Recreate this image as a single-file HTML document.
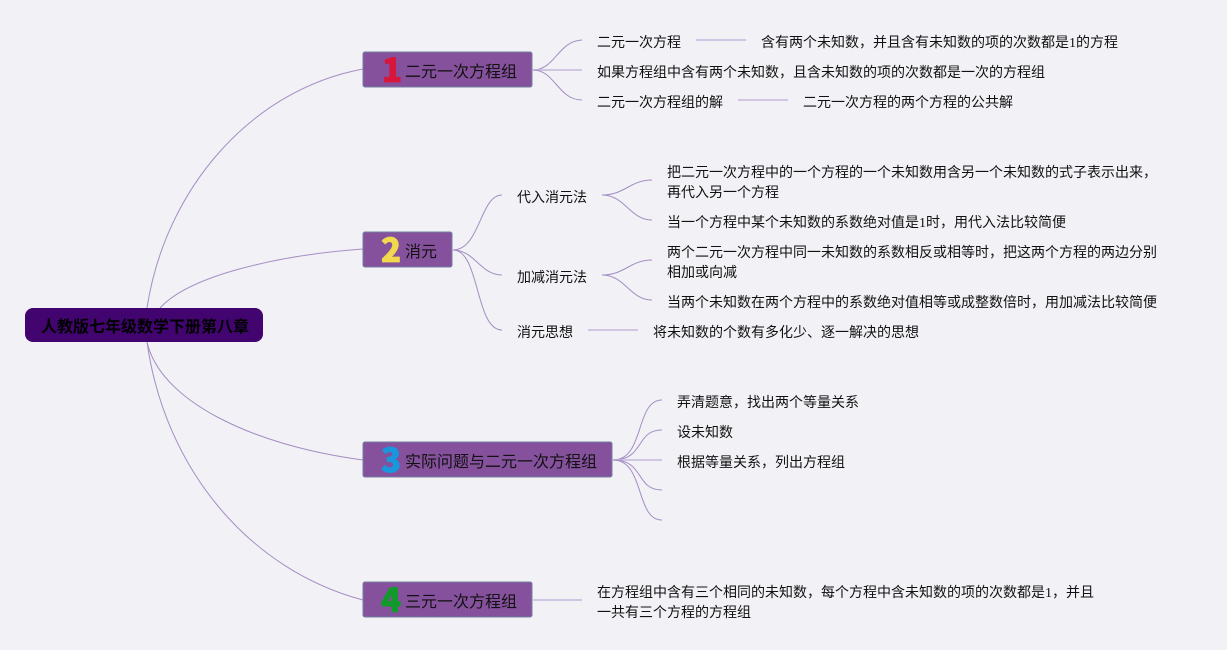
<!DOCTYPE html>
<html lang="zh">
<head>
<meta charset="utf-8">
<style>
html,body{margin:0;padding:0;background:#f2f1f5;}
svg{display:block;}
text{font-family:"Liberation Serif","Noto Sans CJK SC",sans-serif;fill:#111;}
.s{font-size:14px;}
.n{font-size:16px;}
.r{font-size:16px;font-weight:bold;fill:#000;font-family:"Liberation Sans","Noto Sans CJK SC",sans-serif;}
.c{fill:none;stroke:#a48ec4;stroke-width:1;}
.l{fill:none;stroke:#c5b8dc;stroke-width:1.4;}
.b{fill:#85519c;stroke:#6f7f9f;stroke-width:1;}
.d{font-family:"Noto Sans CJK SC",sans-serif;font-size:33px;font-weight:900;stroke-width:.8;stroke-linejoin:round;}
</style>
</head>
<body>
<svg width="1227" height="650" viewBox="0 0 1227 650" xmlns="http://www.w3.org/2000/svg">
<rect width="1227" height="650" fill="#f2f1f5"/>

<!-- root connectors -->
<path class="c" d="M147 308C165 190 250 90 363 69"/>
<path class="c" d="M160 308C190 275 280 255 363 249"/>
<path class="c" d="M147 342C160 400 250 445 363 460"/>
<path class="c" d="M147 342C165 470 250 570 363 600"/>

<!-- branch 1 -->
<path class="c" d="M533 70C555 70 558 41 582 40"/>
<path class="l" d="M533 70H582"/>
<path class="c" d="M533 70C555 70 558 100 582 100"/>
<path class="l" d="M696 40H746"/>
<path class="l" d="M738 100H788"/>

<!-- branch 2 -->
<path class="c" d="M453 250C480 250 480 195 502 195"/>
<path class="c" d="M453 250C475 250 480 275 502 275"/>
<path class="c" d="M453 250C480 250 475 330 502 330"/>
<path class="c" d="M602 195C625 195 630 180 652 180"/>
<path class="c" d="M602 195C625 195 630 220 652 220"/>
<path class="c" d="M602 275C625 275 630 260 652 260"/>
<path class="c" d="M602 275C625 275 630 300 652 300"/>
<path class="l" d="M588 330H638"/>

<!-- branch 3 -->
<path class="c" d="M613 460C645 460 635 400 662 400"/>
<path class="c" d="M613 460C645 460 635 430 662 430"/>
<path class="l" d="M613 460H662"/>
<path class="c" d="M613 460C645 460 635 490 662 490"/>
<path class="c" d="M613 460C645 460 635 520 662 520"/>

<!-- branch 4 -->
<path class="l" d="M533 600H582"/>

<!-- root -->
<rect x="25" y="308" width="238" height="34" rx="8" fill="#42046f"/>
<text class="r" x="41" y="332">人教版七年级数学下册第八章</text>

<!-- nodes -->
<rect class="b" x="363" y="52" width="169" height="35" rx="2"/>
<text class="d" x="382" y="82" style="fill:#d8163c;stroke:#d8163c">1</text>
<text class="n" x="405" y="77">二元一次方程组</text>

<rect class="b" x="363" y="232" width="89" height="35" rx="2"/>
<text class="d" x="381" y="262" style="fill:#f2d84c;stroke:#f2d84c">2</text>
<text class="n" x="405" y="257">消元</text>

<rect class="b" x="363" y="442" width="249" height="35" rx="2"/>
<text class="d" x="381" y="472" style="fill:#1a96dc;stroke:#1a96dc">3</text>
<text class="n" x="405" y="467">实际问题与二元一次方程组</text>

<rect class="b" x="363" y="582" width="169" height="35" rx="2"/>
<text class="d" x="381" y="612" style="fill:#119a2a;stroke:#119a2a">4</text>
<text class="n" x="405" y="607">三元一次方程组</text>

<!-- branch 1 labels -->
<text class="s" x="597" y="47">二元一次方程</text>
<text class="s" x="761" y="47">含有两个未知数，并且含有未知数的项的次数都是1的方程</text>
<text class="s" x="597" y="77">如果方程组中含有两个未知数，且含未知数的项的次数都是一次的方程组</text>
<text class="s" x="597" y="107">二元一次方程组的解</text>
<text class="s" x="803" y="107">二元一次方程的两个方程的公共解</text>

<!-- branch 2 labels -->
<text class="s" x="517" y="202">代入消元法</text>
<text class="s" x="667" y="177">把二元一次方程中的一个方程的一个未知数用含另一个未知数的式子表示出来，</text>
<text class="s" x="667" y="197">再代入另一个方程</text>
<text class="s" x="667" y="227">当一个方程中某个未知数的系数绝对值是1时，用代入法比较简便</text>
<text class="s" x="517" y="282">加减消元法</text>
<text class="s" x="667" y="257">两个二元一次方程中同一未知数的系数相反或相等时，把这两个方程的两边分别</text>
<text class="s" x="667" y="277">相加或向减</text>
<text class="s" x="667" y="307">当两个未知数在两个方程中的系数绝对值相等或成整数倍时，用加减法比较简便</text>
<text class="s" x="517" y="337">消元思想</text>
<text class="s" x="653" y="337">将未知数的个数有多化少、逐一解决的思想</text>

<!-- branch 3 labels -->
<text class="s" x="677" y="407">弄清题意，找出两个等量关系</text>
<text class="s" x="677" y="437">设未知数</text>
<text class="s" x="677" y="467">根据等量关系，列出方程组</text>

<!-- branch 4 labels -->
<text class="s" x="597" y="597">在方程组中含有三个相同的未知数，每个方程中含未知数的项的次数都是1，并且</text>
<text class="s" x="597" y="617">一共有三个方程的方程组</text>
</svg>
</body>
</html>
